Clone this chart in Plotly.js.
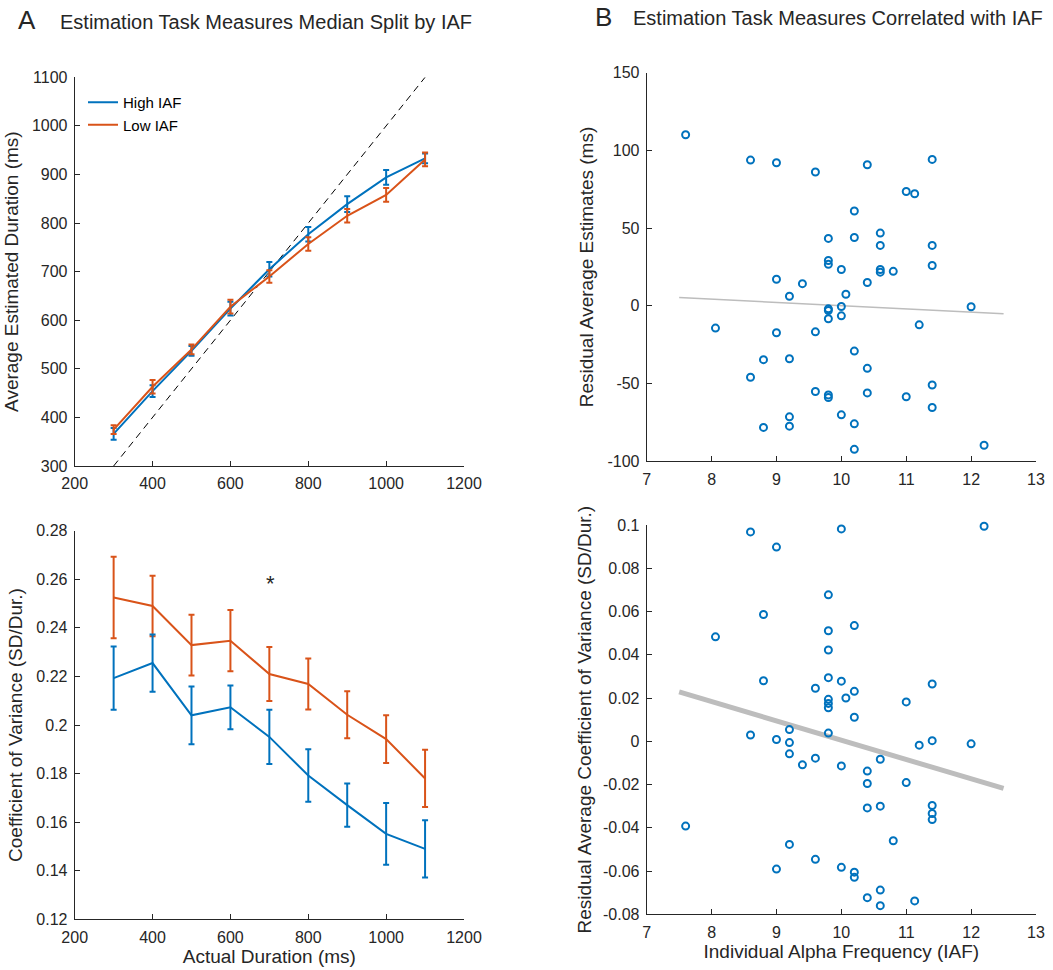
<!DOCTYPE html>
<html>
<head>
<meta charset="utf-8">
<script src="https://cdn.plot.ly/plotly-3.0.1.min.js"></script>
<style>html,body{margin:0;padding:0;background:#fff;} #chart{width:1053px;height:970px;}</style>
</head>
<body>
<div id="chart"></div>
<script>
// ---- Panel A data ----
const durations = [300, 400, 500, 600, 700, 800, 900, 1000, 1100];
const highEst    = [366, 454, 537, 624, 705, 777, 839, 894, 933];
const highEstErr = [12, 12, 10, 14, 15, 15, 16, 15, 10];
const lowEst     = [375, 463, 540, 628, 690, 757, 815, 858, 931];
const lowEstErr  = [9, 14, 10, 14, 13, 14, 14, 14, 14];
const identityX  = [300, 1100];
const identityY  = [300, 1100];

const highCV    = [0.2193, 0.2255, 0.2040, 0.2073, 0.1951, 0.1792, 0.1670, 0.1552, 0.1490];
const highCVErr = [0.0130, 0.0118, 0.0119, 0.0090, 0.0112, 0.0108, 0.0089, 0.0127, 0.0118];
const lowCV     = [0.2525, 0.2490, 0.2329, 0.2347, 0.2210, 0.2169, 0.2042, 0.1942, 0.1780];
const lowCVErr  = [0.0168, 0.0125, 0.0125, 0.0126, 0.0111, 0.0105, 0.0097, 0.0098, 0.0118];

// ---- Panel B data ----
const iaf = [
  7.6,
  8.06,
  8.6, 8.6,
  8.8, 8.8,
  9.0, 9.0, 9.0,
  9.2, 9.2, 9.2, 9.2,
  9.4,
  9.6, 9.6, 9.6,
  9.8, 9.8, 9.8, 9.8, 9.8, 9.8, 9.8, 9.8,
  10.0, 10.0, 10.0, 10.0,
  10.07,
  10.2, 10.2, 10.2, 10.2, 10.2,
  10.4, 10.4, 10.4, 10.4,
  10.6, 10.6, 10.6, 10.6,
  10.8,
  11.0, 11.0,
  11.13,
  11.2,
  11.4, 11.4, 11.4, 11.4, 11.4,
  12.0,
  12.2
];
const residEst = [
  110.1,
  -14.3,
  93.8, -45.9,
  -34.6, -78.2,
  92.1, 17.1, -17.3,
  6.2, -34.0, -71.4, -77.4,
  14.3,
  86.1, -16.7, -55.1,
  43.4, 29.2, 26.7, -1.9, -3.0, -8.3, -57.3, -59.0,
  23.4, -0.4, -6.4, -70.1,
  7.5,
  61.0, 44.0, -29.1, -75.9, -92.3,
  90.8, 15.0, -40.2, -56.0,
  46.8, 38.9, 23.4, 21.7,
  22.2,
  73.6, -58.5,
  72.1,
  -12.2,
  94.2, 38.9, 26.0, -50.9, -65.4,
  -0.6,
  -89.7
];
const residCV = [
  -0.0392,
  0.0483,
  0.0968, 0.0029,
  0.0586, 0.0280,
  0.0898, 0.0008, -0.0591,
  0.0054, -0.0006, -0.0058, -0.0477,
  -0.0109,
  0.0245, -0.0078, -0.0546,
  0.0677, 0.0511, 0.0422, 0.0294, 0.0194, 0.0175, 0.0155, 0.0038,
  0.0982, 0.0278, -0.0114, -0.0583,
  0.0200,
  0.0535, 0.0231, 0.0111, -0.0605, -0.0629,
  -0.0138, -0.0195, -0.0308, -0.0723,
  -0.0083, -0.0300, -0.0688, -0.0760,
  -0.0460,
  0.0182, -0.0191,
  -0.0738,
  -0.0018,
  0.0265, 0.0003, -0.0297, -0.0334, -0.0362,
  -0.0012,
  0.0994
];
const fitX = [7.5, 12.5];
const estFitY = [5.3, -5.1];
const cvFitY = [0.0228, -0.0218];

// ---- tick labels ----
const estTicks = [300, 400, 500, 600, 700, 800, 900, 1000, 1100];
const durTicks = [200, 400, 600, 800, 1000, 1200];
const cvTicks = [0.12, 0.14, 0.16, 0.18, 0.2, 0.22, 0.24, 0.26, 0.28];
const cvTickText = ['0.12', '0.14', '0.16', '0.18', '0.2', '0.22', '0.24', '0.26', '0.28'];
const iafTicks = [7, 8, 9, 10, 11, 12, 13];
const resEstTicks = [-100, -50, 0, 50, 100, 150];
const resEstText = ['-100', '-50', '0', '50', '100', '150'];
const resCVTicks = [-0.08, -0.06, -0.04, -0.02, 0, 0.02, 0.04, 0.06, 0.08, 0.1];
const resCVText = ['-0.08', '-0.06', '-0.04', '-0.02', '0', '0.02', '0.04', '0.06', '0.08', '0.1'];

const BLUE = '#0072BD', ORANGE = '#D95319', INK = '#262626';
const FONT = 'Liberation Sans, Arial, Helvetica, sans-serif';

const W = 1053, H = 970;
const dx = (a, b) => [a / W, b / W];
const dy = (top, bottom) => [1 - bottom / H, 1 - top / H];

function errBar(arr, color) {
  return {type: 'data', array: arr, visible: true, color: color, thickness: 2, width: 3};
}

const traces = [
  {x: identityX, y: identityY, xaxis: 'x', yaxis: 'y', mode: 'lines',
   line: {color: '#000', width: 1, dash: '7px,5px'}, showlegend: false, hoverinfo: 'skip'},
  {x: durations, y: highEst, xaxis: 'x', yaxis: 'y', mode: 'lines', name: 'High IAF',
   line: {color: BLUE, width: 2}, error_y: errBar(highEstErr, BLUE)},
  {x: durations, y: lowEst, xaxis: 'x', yaxis: 'y', mode: 'lines', name: 'Low IAF',
   line: {color: ORANGE, width: 2}, error_y: errBar(lowEstErr, ORANGE)},
  {x: durations, y: lowCV, xaxis: 'x2', yaxis: 'y2', mode: 'lines', showlegend: false,
   line: {color: ORANGE, width: 2}, error_y: errBar(lowCVErr, ORANGE)},
  {x: durations, y: highCV, xaxis: 'x2', yaxis: 'y2', mode: 'lines', showlegend: false,
   line: {color: BLUE, width: 2}, error_y: errBar(highCVErr, BLUE)},
  {x: fitX, y: estFitY, xaxis: 'x3', yaxis: 'y3', mode: 'lines', showlegend: false,
   line: {color: '#BDBDBD', width: 1.5}},
  {x: iaf, y: residEst, xaxis: 'x3', yaxis: 'y3', mode: 'markers', showlegend: false, cliponaxis: false,
   marker: {symbol: 'circle-open', size: 7, color: BLUE, line: {width: 2, color: BLUE}}},
  {x: fitX, y: cvFitY, xaxis: 'x4', yaxis: 'y4', mode: 'lines', showlegend: false,
   line: {color: '#BDBDBD', width: 5}},
  {x: iaf, y: residCV, xaxis: 'x4', yaxis: 'y4', mode: 'markers', showlegend: false, cliponaxis: false,
   marker: {symbol: 'circle-open', size: 7, color: BLUE, line: {width: 2, color: BLUE}}}
];

function axis(extra) {
  return Object.assign({
    showline: true, linecolor: INK, linewidth: 1, mirror: false,
    ticks: 'inside', ticklen: 5, tickwidth: 1, tickcolor: INK,
    showgrid: false, zeroline: false, fixedrange: true,
    tickfont: {family: FONT, size: 16, color: INK},
    ticklabelstandoff: 3,
    tickmode: 'array'
  }, extra);
}
const titleFont = {family: FONT, size: 19, color: INK};

const layout = {
  width: W, height: H,
  margin: {l: 0, r: 0, t: 0, b: 0},
  paper_bgcolor: '#fff', plot_bgcolor: '#fff',
  showlegend: true,
  legend: {x: 83 / W, y: 1 - 86 / H, xanchor: 'left', yanchor: 'top',
           bgcolor: 'rgba(0,0,0,0)', font: {family: FONT, size: 15, color: '#000'},
           tracegroupgap: 0, itemwidth: 30},
  xaxis: axis({domain: dx(74.7, 464), anchor: 'y', range: [200, 1200],
               tickvals: durTicks, ticktext: durTicks.map(String)}),
  yaxis: axis({domain: dy(77.3, 466), anchor: 'x', range: [300, 1100],
               tickvals: estTicks, ticktext: estTicks.map(String),
               title: {text: 'Average Estimated Duration (ms)', font: titleFont, standoff: 8}}),
  xaxis2: axis({domain: dx(74.7, 464), anchor: 'y2', range: [200, 1200],
                tickvals: durTicks, ticktext: durTicks.map(String),
                title: {text: 'Actual Duration (ms)', font: titleFont, standoff: 5}}),
  yaxis2: axis({domain: dy(530.7, 919.3), anchor: 'x2', range: [0.12, 0.28],
                tickvals: cvTicks, ticktext: cvTickText,
                title: {text: 'Coefficient of Variance (SD/Dur.)', font: titleFont, standoff: 8}}),
  xaxis3: axis({domain: dx(646.7, 1036), anchor: 'y3', range: [7, 13],
                tickvals: iafTicks, ticktext: iafTicks.map(String)}),
  yaxis3: axis({domain: dy(72.7, 461.3), anchor: 'x3', range: [-100, 150],
                tickvals: resEstTicks, ticktext: resEstText,
                title: {text: 'Residual Average Estimates (ms)', font: titleFont, standoff: 8}}),
  xaxis4: axis({domain: dx(646.7, 1036), anchor: 'y4', range: [7, 13],
                tickvals: iafTicks, ticktext: iafTicks.map(String),
                title: {text: 'Individual Alpha Frequency (IAF)', font: titleFont, standoff: 5}}),
  yaxis4: axis({domain: dy(525, 914.3), anchor: 'x4', range: [-0.08, 0.1],
                tickvals: resCVTicks, ticktext: resCVText,
                title: {text: 'Residual Average Coefficient of Variance (SD/Dur.)', font: titleFont, standoff: 6}}),
  annotations: [
    {xref: 'paper', yref: 'paper', x: 16 / W, y: 1 - 20 / H, xanchor: 'left', yanchor: 'middle',
     text: 'A', showarrow: false, font: {family: FONT, size: 26, color: INK}},
    {xref: 'paper', yref: 'paper', x: 58 / W, y: 1 - 22 / H, xanchor: 'left', yanchor: 'middle',
     text: 'Estimation Task Measures Median Split by IAF', showarrow: false,
     font: {family: FONT, size: 20, color: INK}},
    {xref: 'paper', yref: 'paper', x: 593 / W, y: 1 - 17 / H, xanchor: 'left', yanchor: 'middle',
     text: 'B', showarrow: false, font: {family: FONT, size: 26, color: INK}},
    {xref: 'paper', yref: 'paper', x: 631 / W, y: 1 - 18 / H, xanchor: 'left', yanchor: 'middle',
     text: 'Estimation Task Measures Correlated with IAF', showarrow: false,
     font: {family: FONT, size: 20, color: INK}},
    {xref: 'x2', yref: 'y2', x: 703, y: 0.2584, xanchor: 'center', yanchor: 'middle',
     text: '*', showarrow: false, font: {family: FONT, size: 22, color: INK}}
  ]
};

Plotly.newPlot('chart', traces, layout, {displayModeBar: false, staticPlot: true});
</script>
</body>
</html>
